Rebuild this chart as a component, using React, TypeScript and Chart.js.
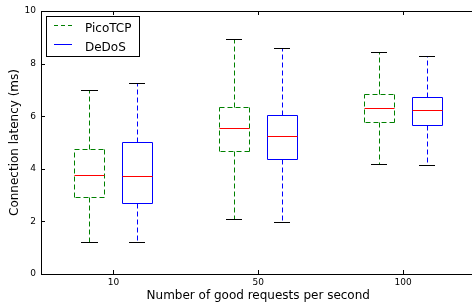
import React, { useEffect, useRef } from 'react';
import { Chart, registerables } from 'chart.js';

Chart.register(...registerables);

const categories = ['10', '50', '100'];
const seriesNames = ['PicoTCP', 'DeDoS'];

const picoMin = [1.22, 2.1, 4.17];
const picoQ1 = [2.93, 4.66, 5.78];
const picoMed = [3.76, 5.56, 6.3];
const picoQ3 = [4.76, 6.36, 6.83];
const picoMax = [7.0, 8.94, 8.43];

const dedosMin = [1.22, 1.98, 4.13];
const dedosQ1 = [2.69, 4.39, 5.68];
const dedosMed = [3.74, 5.23, 6.22];
const dedosQ3 = [5.02, 6.06, 6.72];
const dedosMax = [7.27, 8.59, 8.29];

const yMin = 0;
const yMax = 10;
const yStep = 2;

const FONT = "'DejaVu Sans', sans-serif";
const GREEN = '#008000';
const BLUE = '#0000ff';
const DASH = [5, 3];

const series = [
  { name: seriesNames[0], min: picoMin, q1: picoQ1, med: picoMed, q3: picoQ3, max: picoMax, color: GREEN, dashedBox: true },
  { name: seriesNames[1], min: dedosMin, q1: dedosQ1, med: dedosMed, q3: dedosQ3, max: dedosMax, color: BLUE, dashedBox: false },
];

const px = (v: number) => Math.round(v) + 0.5;

function seg(ctx: CanvasRenderingContext2D, x1: number, y1: number, x2: number, y2: number, color: string, dash: number[], width = 1) {
  ctx.save();
  ctx.strokeStyle = color;
  ctx.lineWidth = width;
  ctx.setLineDash(dash);
  ctx.beginPath();
  ctx.moveTo(x1, y1);
  ctx.lineTo(x2, y2);
  ctx.stroke();
  ctx.restore();
}

const boxPlugin = {
  id: 'boxplotDraw',
  afterDatasetsDraw(chart: any) {
    const ctx: CanvasRenderingContext2D = chart.ctx;
    const ys = chart.scales.y;
    series.forEach((s, di) => {
      const meta = chart.getDatasetMeta(di);
      meta.data.forEach((bar: any, i: number) => {
        const { x, width } = bar.getProps(['x', 'width'], true);
        const left = px(x - width / 2);
        const right = px(x + width / 2);
        const cx = px(x);
        const yQ1 = px(ys.getPixelForValue(s.q1[i]));
        const yQ3 = px(ys.getPixelForValue(s.q3[i]));
        const yMed = px(ys.getPixelForValue(s.med[i]));
        const yLo = px(ys.getPixelForValue(s.min[i]));
        const yHi = px(ys.getPixelForValue(s.max[i]));
        const capHalf = width * 0.27;
        // whiskers
        seg(ctx, cx, yQ3, cx, yHi, s.color, DASH);
        seg(ctx, cx, yQ1, cx, yLo, s.color, DASH);
        // box
        const bd = s.dashedBox ? DASH : [];
        seg(ctx, left, yQ3, right, yQ3, s.color, bd);
        seg(ctx, right, yQ3, right, yQ1, s.color, bd);
        seg(ctx, right, yQ1, left, yQ1, s.color, bd);
        seg(ctx, left, yQ1, left, yQ3, s.color, bd);
        // caps
        seg(ctx, Math.round(x - capHalf), yHi, Math.round(x + capHalf), yHi, '#000', []);
        seg(ctx, Math.round(x - capHalf), yLo, Math.round(x + capHalf), yLo, '#000', []);
        // median
        seg(ctx, left, yMed, right, yMed, '#ff0000', []);
      });
    });
  },
  afterDraw(chart: any) {
    const ctx: CanvasRenderingContext2D = chart.ctx;
    const { left, right, top, bottom } = chart.chartArea;
    const xs = chart.scales.x;
    const ys = chart.scales.y;
    // top spine
    seg(ctx, left, px(top), right, px(top), '#000', []);
    // inward ticks
    ys.ticks.forEach((t: any) => {
      const y = px(ys.getPixelForValue(t.value));
      seg(ctx, left, y, left + 4, y, '#000', []);
    });
    xs.ticks.forEach((_t: any, i: number) => {
      const x = px(xs.getPixelForTick(i));
      seg(ctx, x, bottom, x, bottom - 4, '#000', []);
      seg(ctx, x, top, x, top + 4, '#000', []);
    });
    // legend
    ctx.save();
    const lx = 46.5, ly = 16.5, lw = 93, lh = 40;
    ctx.fillStyle = '#fff';
    ctx.fillRect(lx, ly, lw, lh);
    ctx.strokeStyle = '#000';
    ctx.lineWidth = 1;
    ctx.setLineDash([]);
    ctx.strokeRect(lx, ly, lw, lh);
    const rows = [25.5, 44.5];
    series.forEach((s, i) => {
      seg(ctx, 54, rows[i], 72, rows[i], s.color, s.dashedBox ? [4, 3] : []);
      ctx.fillStyle = '#000';
      ctx.font = `12px ${FONT}`;
      ctx.textAlign = 'left';
      ctx.textBaseline = 'alphabetic';
      ctx.fillText(s.name, 85, rows[i] + 6);
    });
    ctx.restore();
  },
};

export default function App() {
  const ref = useRef<HTMLCanvasElement | null>(null);
  useEffect(() => {
    if (!ref.current) return;
    Chart.defaults.font.family = FONT;
    const chart = new Chart(ref.current, {
      type: 'bar',
      data: {
        labels: categories,
        datasets: series.map((s) => ({
          label: s.name,
          data: s.q1.map((q, i) => [q, s.q3[i]]),
          backgroundColor: 'rgba(0,0,0,0)',
          borderWidth: 0,
          categoryPercentage: 0.662,
          barPercentage: 0.625,
        })) as any,
      },
      options: {
        responsive: false,
        animation: false,
        events: [],
        layout: { padding: { left: 0, top: 11, right: 4.5, bottom: 0 } },
        plugins: { legend: { display: false }, tooltip: { enabled: false } },
        scales: {
          x: {
            type: 'category',
            offset: true,
            grid: { display: false, drawTicks: false },
            border: { display: true, color: '#000', width: 1 },
            ticks: { color: '#000', font: { size: 9, family: FONT }, padding: 3, maxRotation: 0 },
            title: {
              display: true,
              text: 'Number of good requests per second',
              color: '#000',
              font: { size: 12, family: FONT },
              padding: { top: 0, bottom: 3 },
            },
            afterFit: (scale: any) => {
              scale.height = 32;
            },
          },
          y: {
            type: 'linear',
            min: yMin,
            max: yMax,
            grid: { display: false, drawTicks: false },
            border: { display: true, color: '#000', width: 1 },
            ticks: { stepSize: yStep, color: '#000', font: { size: 9, family: FONT }, padding: 5 },
            title: {
              display: true,
              text: 'Connection latency (ms)',
              color: '#000',
              font: { size: 12, family: FONT },
              padding: { top: 8, bottom: 0 },
            },
            afterFit: (scale: any) => {
              scale.width = 41;
            },
          },
        },
      },
      plugins: [boxPlugin],
    });
    return () => chart.destroy();
  }, []);
  return (
    <div style={{ position: 'absolute', left: 0, top: 0, width: 472, height: 306, overflow: 'hidden', background: '#fff' }}>
      <canvas ref={ref} width={480} height={306} style={{ display: 'block', width: 480, height: 306 }} />
    </div>
  );
}
